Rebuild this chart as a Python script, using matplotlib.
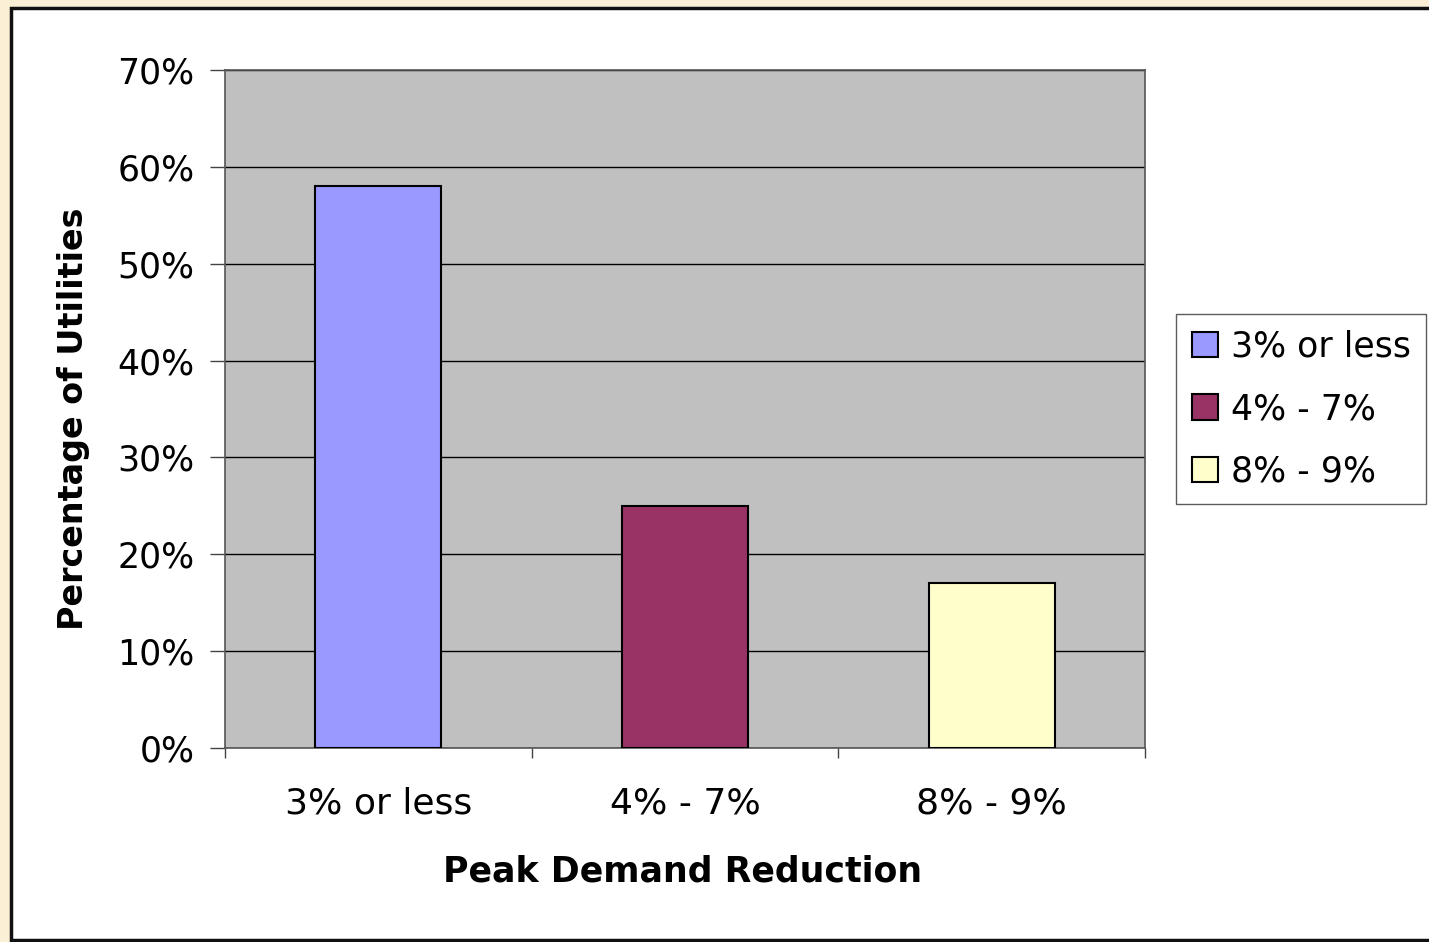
import matplotlib
matplotlib.use("Agg")
import matplotlib.pyplot as plt
from matplotlib.patches import Rectangle
from matplotlib.ticker import FuncFormatter

plt.rcParams['font.family'] = ['DejaVu Sans']

categories = ["3% or less", "4% - 7%", "8% - 9%"]
values = [58, 25, 17]
colors = ["#9999FF", "#993366", "#FFFFCC"]
y_ticks = [0, 10, 20, 30, 40, 50, 60, 70]

W, H = 1429, 942
fig = plt.figure(figsize=(W / 100, H / 100), dpi=100)
fig.patch.set_facecolor("#FBEFD6")

# white framed panel behind the chart
fig.patches.append(Rectangle((11 / W, 1 - 940 / H), 1.1, (940 - 8) / H,
                             transform=fig.transFigure, facecolor="white",
                             edgecolor="#111111", linewidth=2.5, zorder=-5))

ax = fig.add_axes([225 / W, 1 - 748 / H, 920 / W, 678 / H])
ax.set_facecolor("#C0C0C0")
ax.set_axisbelow(True)

x = list(range(len(categories)))
for i, (cat, v, c) in enumerate(zip(categories, values, colors)):
    ax.bar(i, v, width=0.41, color=c, edgecolor="black", linewidth=1.5,
           label=cat, zorder=3)

ax.set_xlim(-0.5, len(categories) - 0.5)
ax.set_ylim(0, 70)
ax.set_yticks(y_ticks)
ax.yaxis.set_major_formatter(FuncFormatter(lambda v, p: f"{int(v)}%"))
ax.grid(axis="y", color="black", linewidth=1.0)

ax.set_xticks([i - 0.5 for i in range(len(categories) + 1)])
ax.set_xticklabels([])
ax.set_xticks(x, minor=True)
ax.set_xticklabels(categories, minor=True)
ax.tick_params(axis="x", which="major", length=7, width=1, color="#444444")
ax.tick_params(axis="x", which="minor", length=0, pad=28, labelsize=26)
ax.tick_params(axis="y", length=11, width=1, color="#444444", pad=11, labelsize=25)

for s in ax.spines.values():
    s.set_color("#555555")
    s.set_linewidth(1.2)

ax.set_ylabel("Percentage of Utilities", fontsize=24, fontweight="bold")
ax.yaxis.set_label_coords((73 - 225) / 920, (748 - 418.5) / 678)
ax.set_xlabel("Peak Demand Reduction", fontsize=25, fontweight="bold")
ax.xaxis.set_label_coords((683 - 225) / 920, (748 - 871) / 678)
ax.xaxis.label.set_verticalalignment("center")
ax.yaxis.label.set_verticalalignment("center")

leg = ax.legend(loc="upper left", bbox_to_anchor=(1176 / W, 1 - 314 / H, 250 / W, 0),
                bbox_transform=fig.transFigure, mode="expand",
                fontsize=25, frameon=True, fancybox=False, borderpad=0.45,
                handlelength=0.75, handleheight=0.75, handletextpad=0.37,
                labelspacing=0.82, borderaxespad=0)
leg.get_frame().set_edgecolor("#333333")
leg.get_frame().set_linewidth(1.0)

fig.savefig("out.png", dpi=100, facecolor=fig.get_facecolor())
